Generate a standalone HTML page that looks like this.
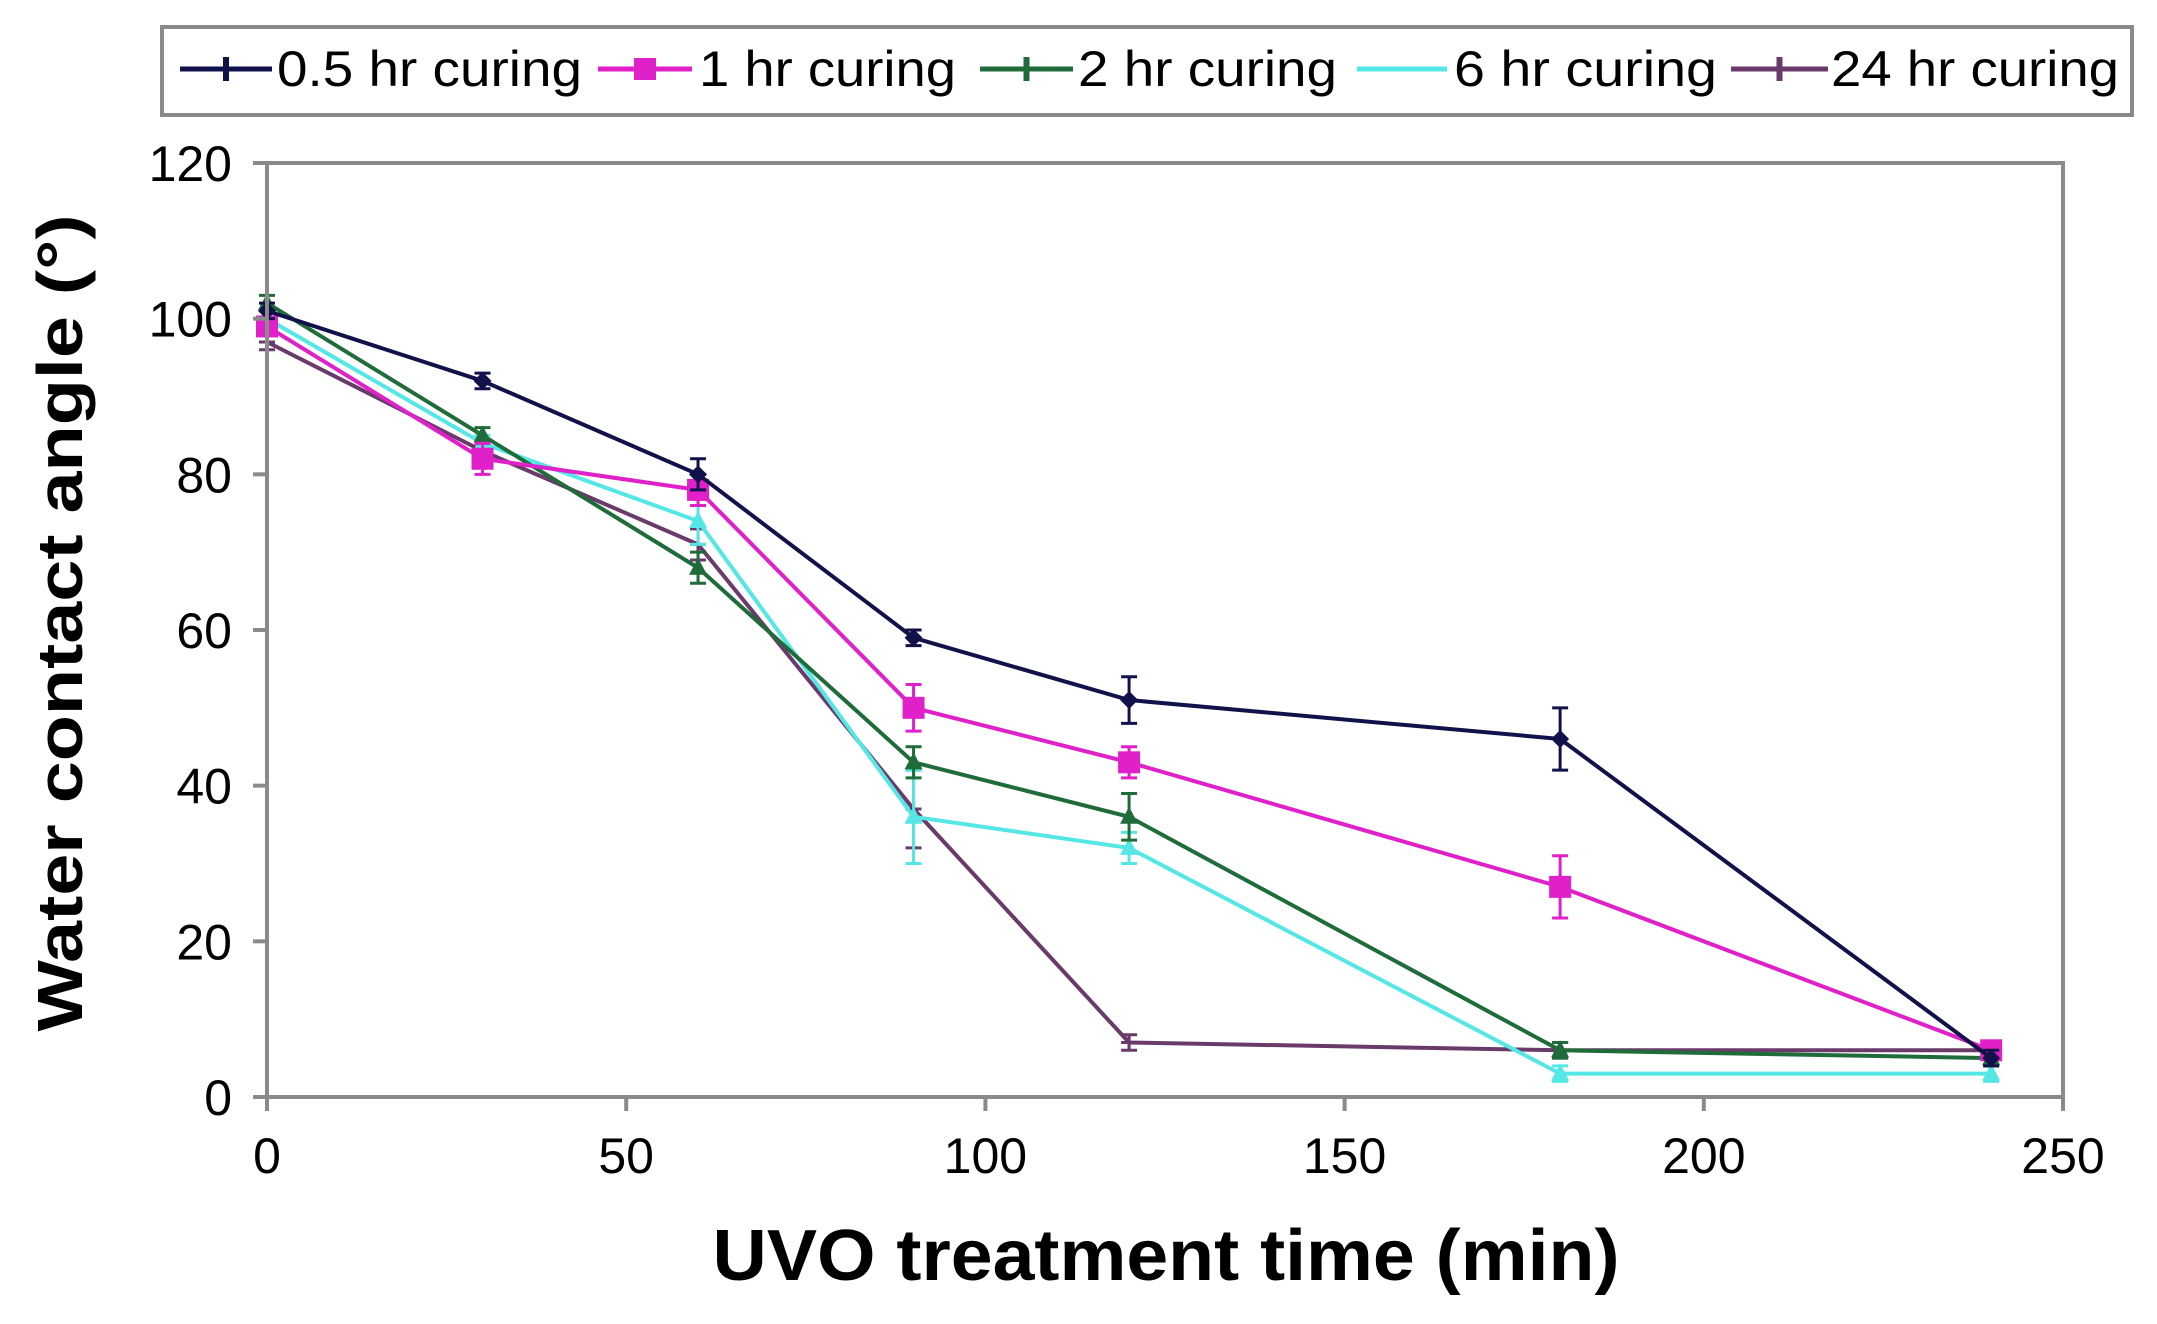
<!DOCTYPE html>
<html><head><meta charset="utf-8"><style>
html,body{margin:0;padding:0;background:#fff;}
svg{display:block;font-family:"Liberation Sans",sans-serif;}
</style></head><body>
<svg id="chart" width="2157" height="1324" viewBox="0 0 2157 1324" xmlns="http://www.w3.org/2000/svg">
<rect x="0" y="0" width="2157" height="1324" fill="#fff"/>
<g id="plot"></g>
<g id="axes"></g>
<g id="legend"></g>
<text transform="translate(82,623) rotate(-90)" text-anchor="middle" font-size="64" font-weight="bold" textLength="817" lengthAdjust="spacingAndGlyphs">Water contact angle (°)</text>
<text x="1166" y="1280" text-anchor="middle" font-size="72" font-weight="bold" textLength="907" lengthAdjust="spacingAndGlyphs">UVO treatment time (min)</text>
</svg>
<script>
const xValues = [0, 30, 60, 90, 120, 180, 240];
const seriesNames = ["0.5 hr curing", "1 hr curing", "2 hr curing", "6 hr curing", "24 hr curing"];
const s05 = [101, 92, 80, 59, 51, 46, 5];
const s1 = [99, 82, 78, 50, 43, 27, 6];
const s2 = [102, 85, 68, 43, 36, 6, 5];
const s6 = [100, 84, 74, 36, 32, 3, 3];
const s24 = [97, 83, 71, 37, 7, 6, 6];
const e05 = [1, 1, 2, 1, 3, 4, 1];
const e1 = [1, 2, 2, 3, 2, 4, 1];
const e2 = [1, 1, 2, 2, 3, 1, 1];
const e6 = [1, 1, 3, 6, 2, 1, 1];
const e24 = [1, 1, 2, 5, 1, 1, 1];
const xTicks = [0, 50, 100, 150, 200, 250];
const yTicks = [0, 20, 40, 60, 80, 100, 120];

const NS = "http://www.w3.org/2000/svg";
const X0 = 267, X1 = 2063, Y0 = 1097, Y1 = 163;
const xs = v => X0 + (X1 - X0) * v / 250;
const ys = v => Y0 - (Y0 - Y1) * v / 120;
function mk(tag, attrs, parent) {
  const el = document.createElementNS(NS, tag);
  for (const k in attrs) el.setAttribute(k, attrs[k]);
  parent.appendChild(el);
  return el;
}
const plot = document.getElementById("plot");
const axes = document.getElementById("axes");
const legend = document.getElementById("legend");

let fr = mk("rect", {x: X0, y: Y1, width: X1 - X0, height: Y0 - Y1, fill: "none", stroke: "#8a8a8a", "stroke-width": 4}, axes);


xTicks.forEach(t => {
  const x = xs(t);
  const tk = mk("line", {x1: x, x2: x, y1: Y0, y2: Y0 + 14, stroke: "#8a8a8a", "stroke-width": 4}, axes);
  
  
  const lb = mk("text", {x: x, y: Y0 + 76, "text-anchor": "middle", "font-size": 50}, axes);
  lb.textContent = t;
  
  
});
yTicks.forEach(t => {
  const y = ys(t);
  const tk = mk("line", {x1: X0 - 14, x2: X0, y1: y, y2: y, stroke: "#8a8a8a", "stroke-width": 4}, axes);
  
  
  const lb = mk("text", {x: 232, y: y + 18, "text-anchor": "end", "font-size": 50}, axes);
  lb.textContent = t;
  
  
});

const series = [
  {v: s24, e: e24, c: "#6a3a6a", m: "plus"},
  {v: s6, e: e6, c: "#55e6e6", m: "tri"},
  {v: s2, e: e2, c: "#1f6b3a", m: "tri"},
  {v: s1, e: e1, c: "#e020c8", m: "sq"},
  {v: s05, e: e05, c: "#12124a", m: "dia"}
];
const order = [4, 3, 2, 1, 0];
series.forEach((s, si) => {
  const g = mk("g", {}, plot);
  
  
  const pts = xValues.map((x, i) => xs(x) + "," + ys(s.v[i])).join(" ");
  const pl = mk("polyline", {points: pts, fill: "none", stroke: s.c, "stroke-width": 4}, g);
  
  
  xValues.forEach((x, i) => {
    const cx = xs(x), cy = ys(s.v[i]), ey = s.e[i];
    const eb = mk("path", {d: `M${cx},${ys(s.v[i] + ey)}V${ys(s.v[i] - ey)}M${cx - 8},${ys(s.v[i] + ey)}h16M${cx - 8},${ys(s.v[i] - ey)}h16`, stroke: s.c, "stroke-width": 3, fill: "none"}, g);
    
    
    let mkEl;
    if (s.m === "sq") mkEl = mk("rect", {x: cx - 11, y: cy - 11, width: 22, height: 22, fill: s.c}, g);
    else if (s.m === "tri") mkEl = mk("path", {d: `M${cx},${cy - 10}L${cx + 9},${cy + 7}L${cx - 9},${cy + 7}Z`, fill: s.c}, g);
    else if (s.m === "dia") mkEl = mk("path", {d: `M${cx},${cy - 9}L${cx + 9},${cy}L${cx},${cy + 9}L${cx - 9},${cy}Z`, fill: s.c}, g);
    else mkEl = mk("path", {d: `M${cx - 8},${cy}h16M${cx},${cy - 8}v16`, stroke: s.c, "stroke-width": 3}, g);
    
    
  });
});

const lb = mk("rect", {x: 162, y: 27, width: 1970, height: 88, fill: "#fff", stroke: "#8a8a8a", "stroke-width": 4}, legend);


const legColors = ["#12124a", "#e020c8", "#1f6b3a", "#55e6e6", "#6a3a6a"];
const legLine = [[180, 272], [598, 692], [980, 1073], [1357, 1447], [1731, 1828]];
const legText = [[277, 305], [699, 257], [1078, 259], [1454, 263], [1831, 288]];
seriesNames.forEach((n, i) => {
  const g = mk("g", {}, legend);
  
  
  mk("line", {x1: legLine[i][0], x2: legLine[i][1], y1: 69, y2: 69, stroke: legColors[i], "stroke-width": 5}, g);
  const c = (legLine[i][0] + legLine[i][1]) / 2;
  if (i === 1) mk("rect", {x: c - 11, y: 58, width: 22, height: 22, fill: legColors[i]}, g);
  else if (i !== 3) mk("path", {d: `M${c},57v24`, stroke: legColors[i], "stroke-width": 6}, g);
  const t = mk("text", {x: legText[i][0], y: 86, "font-size": 50, textLength: legText[i][1], lengthAdjust: "spacingAndGlyphs"}, g);
  t.textContent = n;
});
</script>
</body></html>
